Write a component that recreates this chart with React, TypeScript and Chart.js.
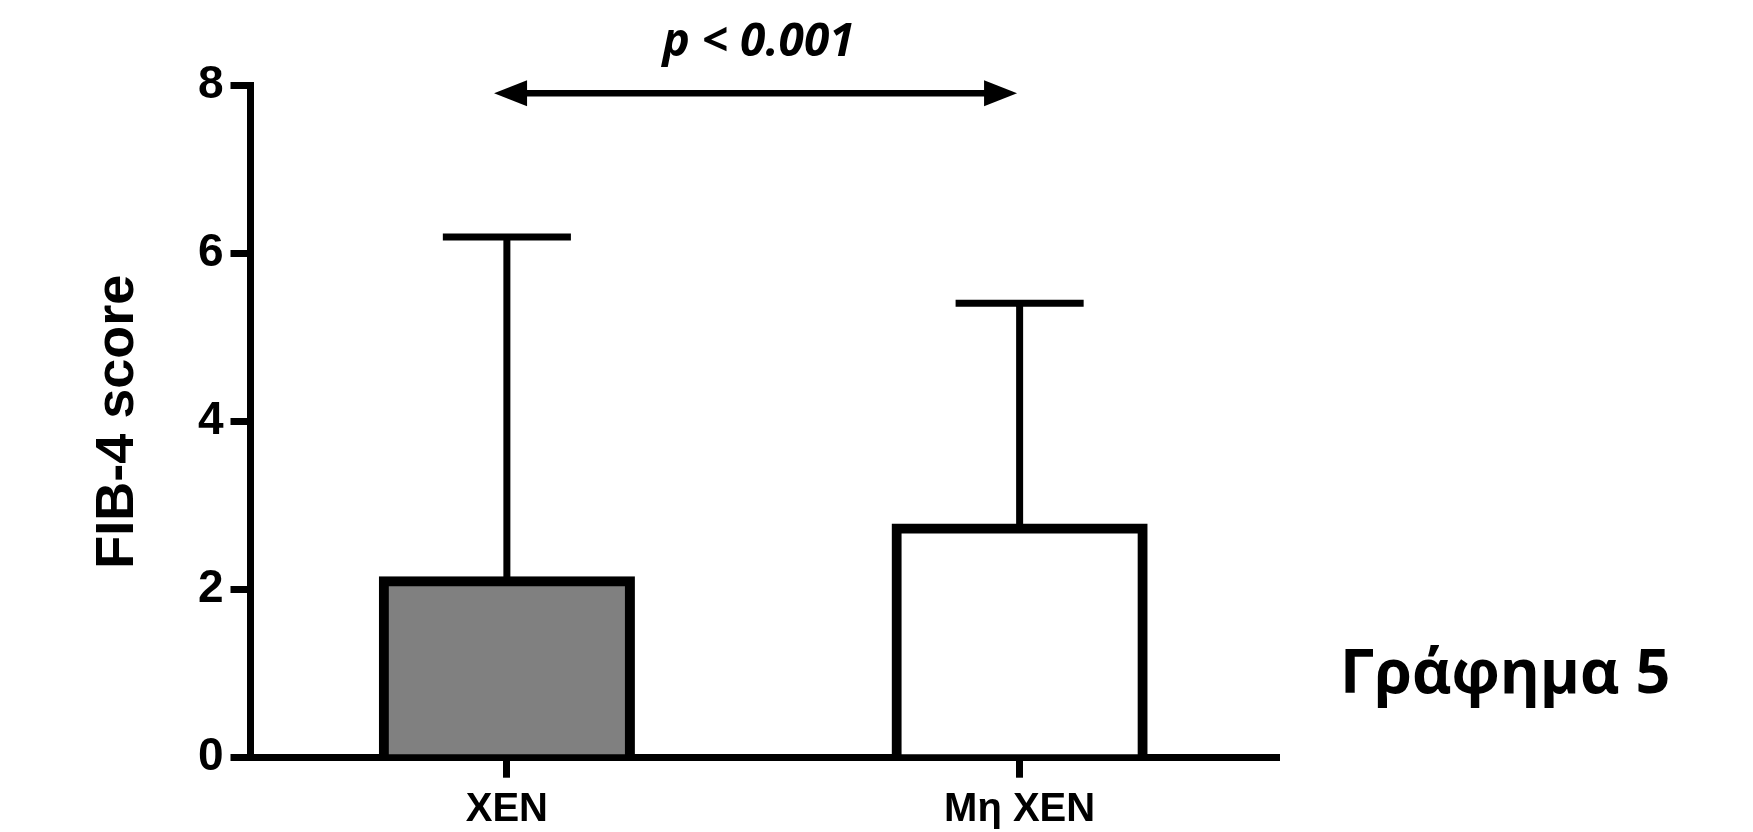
import React, { useEffect, useRef } from "react";
import { Chart, registerables } from "chart.js";

Chart.register(...registerables);

const categories = ["XEN", "Mη XEN"];
const meanValues = [2.1, 2.73];
const sdValues = [4.1, 2.68];
const barColors = ["#808080", "#ffffff"];
const yMin = 0;
const yMax = 8;
const yStep = 2;
const yTitle = "FIB-4 score";
const pLabel = "p < 0.001";
const figureLabel = "Γράφημα 5";
const arrowFrom = -0.025;
const arrowTo = 0.995;
const arrowLevel = 7.91;

const BLACK = "#000000";
const SANS = "'Liberation Sans', Arial, sans-serif";

const errorBarPlugin = {
  id: "errorBars",
  afterDatasetsDraw(chart: any) {
    const ctx = chart.ctx;
    const yScale = chart.scales.y;
    const meta = chart.getDatasetMeta(0);
    ctx.save();
    ctx.strokeStyle = BLACK;
    ctx.lineWidth = 7;
    ctx.lineCap = "butt";
    meta.data.forEach((bar: any, i: number) => {
      const x = bar.x;
      const yTop = yScale.getPixelForValue(meanValues[i] + sdValues[i]);
      const yBase = yScale.getPixelForValue(meanValues[i]);
      const half = (bar.width + 10) / 4;
      ctx.beginPath();
      ctx.moveTo(x, yBase);
      ctx.lineTo(x, yTop);
      ctx.moveTo(x - half, yTop);
      ctx.lineTo(x + half, yTop);
      ctx.stroke();
    });
    ctx.restore();
  },
};

const annotationPlugin = {
  id: "annotations",
  afterDraw(chart: any) {
    const ctx = chart.ctx;
    const xScale = chart.scales.x;
    const yScale = chart.scales.y;
    const area = chart.chartArea;
    const x1 = xScale.getPixelForValue(arrowFrom);
    const x2 = xScale.getPixelForValue(arrowTo);
    const y = yScale.getPixelForValue(arrowLevel);
    const headLen = 33;
    const headHalf = 13;
    ctx.save();
    ctx.strokeStyle = BLACK;
    ctx.fillStyle = BLACK;
    ctx.lineWidth = 6.5;
    ctx.beginPath();
    ctx.moveTo(x1 + headLen - 2, y);
    ctx.lineTo(x2 - headLen + 2, y);
    ctx.stroke();
    ctx.beginPath();
    ctx.moveTo(x1, y);
    ctx.lineTo(x1 + headLen, y - headHalf);
    ctx.lineTo(x1 + headLen, y + headHalf);
    ctx.closePath();
    ctx.fill();
    ctx.beginPath();
    ctx.moveTo(x2, y);
    ctx.lineTo(x2 - headLen, y - headHalf);
    ctx.lineTo(x2 - headLen, y + headHalf);
    ctx.closePath();
    ctx.fill();

    ctx.font = "italic bold 46px 'Open Sans', sans-serif";
    ctx.textAlign = "center";
    ctx.textBaseline = "alphabetic";
    ctx.fillText(pLabel, (x1 + x2) / 2 + 3, y - 37);

    ctx.font = "bold 61px 'Open Sans', sans-serif";
    ctx.textAlign = "left";
    ctx.fillText(figureLabel, area.right + 64, area.bottom - 65);
    ctx.restore();
  },
};

export default function App() {
  const canvasRef = useRef<HTMLCanvasElement | null>(null);

  useEffect(() => {
    const canvas = canvasRef.current;
    if (!canvas) return;
    const chart = new Chart(canvas, {
      type: "bar",
      data: {
        labels: categories,
        datasets: [
          {
            data: meanValues,
            backgroundColor: barColors,
            borderColor: BLACK,
            borderWidth: 10,
            borderSkipped: "start",
            inflateAmount: 5,
            barPercentage: 0.48,
            categoryPercentage: 1,
          } as any,
        ],
      },
      options: {
        responsive: false,
        animation: false,
        devicePixelRatio: 1,
        layout: {
          padding: { left: 0, top: 85.8, right: 477, bottom: 0 },
        },
        plugins: {
          legend: { display: false },
          tooltip: { enabled: false },
        },
        scales: {
          x: {
            offset: true,
            z: 1,
            afterFit(scale: any) {
              scale.height = 74.3;
            },
            grid: {
              display: true,
              offset: false,
              drawOnChartArea: false,
              drawTicks: true,
              tickLength: 20,
              lineWidth: 7,
              color: BLACK,
            },
            border: { display: true, color: BLACK, width: 7 },
            ticks: {
              color: BLACK,
              padding: 8,
              font: { family: SANS, size: 40, weight: "bold" },
            },
          },
          y: {
            min: yMin,
            max: yMax,
            afterFit(scale: any) {
              scale.width = 250.5;
            },
            grid: {
              display: true,
              drawOnChartArea: false,
              drawTicks: true,
              tickLength: 20,
              lineWidth: 7,
              color: BLACK,
            },
            border: { display: true, color: BLACK, width: 7 },
            ticks: {
              stepSize: yStep,
              color: BLACK,
              padding: 7,
              font: { family: SANS, size: 46, weight: "bold" },
            },
            title: {
              display: true,
              text: yTitle,
              color: BLACK,
              padding: { top: 86, bottom: 0 },
              font: { family: SANS, size: 54, weight: "bold" },
            },
          },
        },
      } as any,
      plugins: [errorBarPlugin, annotationPlugin],
    });
    return () => chart.destroy();
  }, []);

  return (
    <div style={{ position: "fixed", left: 0, top: 0, width: 1753, height: 832, background: "#ffffff" }}>
      <canvas ref={canvasRef} width={1753} height={832} style={{ display: "block" }} />
    </div>
  );
}
